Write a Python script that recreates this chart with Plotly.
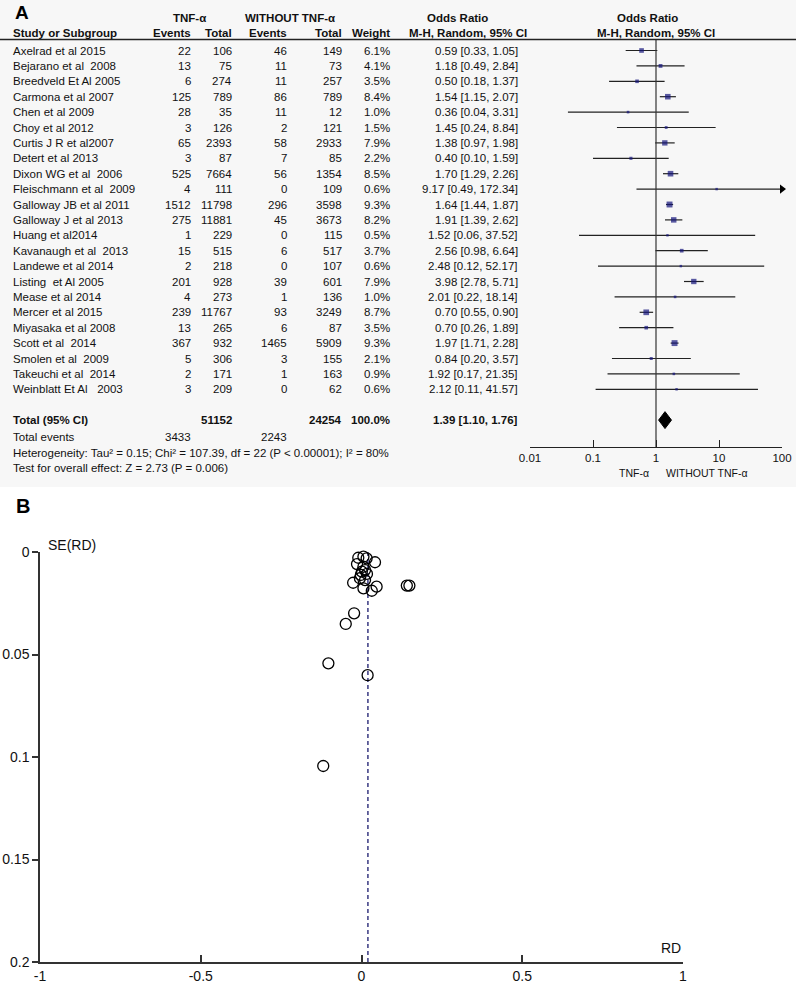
import plotly.graph_objects as go

W, H = 796, 987

studies = ["Axelrad et al 2015", "Bejarano et al  2008", "Breedveld Et Al 2005", "Carmona et al 2007",
           "Chen et al 2009", "Choy et al 2012", "Curtis J R et al2007", "Detert et al 2013",
           "Dixon WG et al  2006", "Fleischmann et al  2009", "Galloway JB et al 2011",
           "Galloway J et al 2013", "Huang et al2014", "Kavanaugh et al  2013", "Landewe et al 2014",
           "Listing  et Al 2005", "Mease et al 2014", "Mercer et al 2015", "Miyasaka et al 2008",
           "Scott et al  2014", "Smolen et al  2009", "Takeuchi et al  2014", "Weinblatt Et Al   2003"]
tnf_events = [22, 13, 6, 125, 28, 3, 65, 3, 525, 4, 1512, 275, 1, 15, 2, 201, 4, 239, 13, 367, 5, 2, 3]
tnf_total = [106, 75, 274, 789, 35, 126, 2393, 87, 7664, 111, 11798, 11881, 229, 515, 218, 928, 273,
             11767, 265, 932, 306, 171, 209]
ctl_events = [46, 11, 11, 86, 11, 2, 58, 7, 56, 0, 296, 45, 0, 6, 0, 39, 1, 93, 6, 1465, 3, 1, 0]
ctl_total = [149, 73, 257, 789, 12, 121, 2933, 85, 1354, 109, 3598, 3673, 115, 517, 107, 601, 136,
             3249, 87, 5909, 155, 163, 62]
weight = [6.1, 4.1, 3.5, 8.4, 1.0, 1.5, 7.9, 2.2, 8.5, 0.6, 9.3, 8.2, 0.5, 3.7, 0.6, 7.9, 1.0, 8.7,
          3.5, 9.3, 2.1, 0.9, 0.6]
odds = [0.59, 1.18, 0.50, 1.54, 0.36, 1.45, 1.38, 0.40, 1.70, 9.17, 1.64, 1.91, 1.52, 2.56, 2.48,
        3.98, 2.01, 0.70, 0.70, 1.97, 0.84, 1.92, 2.12]
ci_lo = [0.33, 0.49, 0.18, 1.15, 0.04, 0.24, 0.97, 0.10, 1.29, 0.49, 1.44, 1.39, 0.06, 0.98, 0.12,
         2.78, 0.22, 0.55, 0.26, 1.71, 0.20, 0.17, 0.11]
ci_hi = [1.05, 2.84, 1.37, 2.07, 3.31, 8.84, 1.98, 1.59, 2.26, 172.34, 1.87, 2.62, 37.52, 6.64,
         52.17, 5.71, 18.14, 0.90, 1.89, 2.28, 3.57, 21.35, 41.57]
total_or, total_lo, total_hi = 1.39, 1.10, 1.76
forest_ticks = [0.01, 0.1, 1, 10, 100]
forest_ticklabels = ["0.01", "0.1", "1", "10", "100"]

# Funnel plot (panel B) values
rd = [-0.010, 0.006, 0.016, 0.042, 0.006, 0.001, 0.011, -0.014, -0.026, -0.005, 0.011, -0.002,
      0.017, 0.006, 0.032, 0.047, 0.141, 0.149, -0.023, -0.049, -0.103, 0.019, -0.119]
se_rd = [0.0028, 0.0023, 0.0031, 0.0050, 0.0072, 0.0096, 0.0088, 0.0059, 0.0150, 0.0128, 0.0137,
         0.0112, 0.0107, 0.0177, 0.0189, 0.0169, 0.0164, 0.0164, 0.0299, 0.0351, 0.0543, 0.0601,
         0.1044]
pooled_rd = 0.02
funnel_xticks = [-1, -0.5, 0, 0.5, 1]
funnel_xlabels = ["-1", "-0.5", "0", "0.5", "1"]
funnel_yticks = [0, 0.05, 0.1, 0.15, 0.2]
funnel_ylabels = ["0", "0.05", "0.1", "0.15", "0.2"]

FONT = "Liberation Sans, Arial, sans-serif"
FS = 11.5

def px(v):
    return v / W

def py(v):
    return 1 - v / H

# forest row geometry (pixels)
ROW0, ROWSTEP = 50.5, 15.4
TOP, BOT = 39, 447
def rowpix(p):
    return (p - ROW0) / ROWSTEP
def rowy(i):
    return ROW0 + i * ROWSTEP

fig = go.Figure()

rows = list(range(len(studies)))
total_row = 24
axis_hi_clip = 100

# CI lines
xs, ys = [], []
for i in rows:
    xs += [ci_lo[i], min(ci_hi[i], axis_hi_clip), None]
    ys += [i, i, None]
fig.add_trace(go.Scatter(x=xs, y=ys, mode="lines", line=dict(color="#222222", width=1.2),
                         xaxis="x", yaxis="y", hoverinfo="skip", showlegend=False))
# arrow for truncated CI
arr_x = [axis_hi_clip for i in rows if ci_hi[i] > axis_hi_clip]
arr_y = [i for i in rows if ci_hi[i] > axis_hi_clip]
fig.add_trace(go.Scatter(x=arr_x, y=arr_y, mode="markers",
                         marker=dict(symbol="triangle-right", size=8, color="#000000"),
                         xaxis="x", yaxis="y", showlegend=False, cliponaxis=False))
# vertical line of no effect
fig.add_trace(go.Scatter(x=[1, 1], y=[rowpix(TOP), rowpix(BOT)], mode="lines",
                         line=dict(color="#333333", width=1.2), xaxis="x", yaxis="y",
                         showlegend=False))
# squares
fig.add_trace(go.Scatter(x=odds, y=rows, mode="markers",
                         marker=dict(symbol="square", size=[2.2 + 0.4 * w for w in weight],
                                     color="#14147a", line=dict(width=0)),
                         xaxis="x", yaxis="y", showlegend=False))
# diamond
fig.add_trace(go.Scatter(x=[total_lo, total_or, total_hi, total_or, total_lo],
                         y=[total_row, total_row - 0.55, total_row, total_row + 0.55, total_row],
                         mode="lines", fill="toself", fillcolor="#000000",
                         line=dict(color="#000000", width=1), xaxis="x", yaxis="y",
                         showlegend=False))

# funnel plot
fig.add_trace(go.Scatter(x=[pooled_rd, pooled_rd], y=[0, 0.2], mode="lines",
                         line=dict(color="#1a1a6e", width=1.3, dash="4px,3px"),
                         xaxis="x2", yaxis="y2", showlegend=False))
fig.add_trace(go.Scatter(x=rd, y=se_rd, mode="markers",
                         marker=dict(symbol="circle-open", size=11, color="#000000",
                                     line=dict(width=1.3, color="#000000")),
                         xaxis="x2", yaxis="y2", showlegend=False, cliponaxis=False))

ann = []
def A(text, x, ypix, anchor="left", size=FS, bold=False, color="#111111"):
    if bold:
        text = "<b>" + text + "</b>"
    ann.append(dict(text=text, x=px(x), y=py(ypix), xref="paper", yref="paper", xanchor=anchor,
                    yanchor="middle", showarrow=False,
                    font=dict(family=FONT, size=size, color=color)))

# headers
A("TNF-α", 189, 18, "center", bold=True)
A("WITHOUT TNF-α", 290, 18, "center", bold=True)
A("Odds Ratio", 457, 18, "center", bold=True)
A("Odds Ratio", 647, 18, "center", bold=True)
A("Study or Subgroup", 11, 33, "left", bold=True)
A("Events", 193, 33, "right", bold=True)
A("Total", 234, 33, "right", bold=True)
A("Events", 289, 33, "right", bold=True)
A("Total", 344, 33, "right", bold=True)
A("Weight", 392, 33, "right", bold=True)
A("M-H, Random, 95% CI", 468, 33, "center", bold=True)
A("M-H, Random, 95% CI", 656, 33, "center", bold=True)

for i in rows:
    y = rowy(i)
    A(studies[i], 11, y)
    A(str(tnf_events[i]), 193, y, "right")
    A(str(tnf_total[i]), 234, y, "right")
    A(str(ctl_events[i]), 289, y, "right")
    A(str(ctl_total[i]), 344, y, "right")
    A(f"{weight[i]:.1f}%", 392, y, "right")
    A(f"{odds[i]:.2f} [{ci_lo[i]:.2f}, {ci_hi[i]:.2f}]", 520, y, "right")

yt = rowy(total_row)
A("Total (95% CI)", 11, yt, bold=True)
A(str(sum(tnf_total)), 234, yt, "right", bold=True)
A(str(sum(ctl_total)), 344, yt, "right", bold=True)
A("100.0%", 392, yt, "right", bold=True)
A(f"{total_or:.2f} [{total_lo:.2f}, {total_hi:.2f}]", 520, yt, "right", bold=True)
A("Total events", 11, 436.7)
A(str(sum(tnf_events)), 193, 436.7, "right")
A(str(sum(ctl_events)), 289, 436.7, "right")
A("Heterogeneity: Tau² = 0.15; Chi² = 107.39, df = 22 (P < 0.00001); I² = 80%", 11, 452.5)
A("Test for overall effect: Z = 2.73 (P = 0.006)", 11, 468.3)
A("TNF-α", 634, 473, "center", size=10.5)
A("WITHOUT TNF-α", 707, 473, "center", size=10.5)

# panel labels
A("A", 13, 13, "left", size=19, bold=True, color="#000000")
A("B", 14, 506, "left", size=20, bold=True, color="#000000")
A("SE(RD)", 46, 545, "left", size=14)
A("RD", 683, 948, "right", size=14)

shapes = [
    dict(type="rect", xref="paper", yref="paper", x0=0, x1=1, y0=py(487), y1=1,
         fillcolor="#f7f7f7", line=dict(width=0), layer="below"),
    dict(type="line", xref="paper", yref="paper", x0=0, x1=1, y0=py(39.5), y1=py(39.5),
         line=dict(color="#222222", width=1.5)),
]

fig.update_layout(
    width=W, height=H, margin=dict(l=0, r=0, t=0, b=0, pad=0, autoexpand=False),
    paper_bgcolor="white", plot_bgcolor="rgba(0,0,0,0)",
    showlegend=False, annotations=ann, shapes=shapes,
    font=dict(family=FONT, size=FS, color="#111"),
    xaxis=dict(type="log", domain=[px(530), px(782)], range=[-2, 2], anchor="y",
               tickvals=forest_ticks, ticktext=forest_ticklabels, ticks="inside", ticklen=7,
               tickwidth=1.2, tickcolor="#222", showline=True, linecolor="#222", linewidth=1.2,
               showgrid=False, zeroline=False, tickfont=dict(size=11.5, family=FONT),
               automargin=False),
    yaxis=dict(domain=[py(BOT), py(TOP)], range=[rowpix(BOT), rowpix(TOP)], visible=False,
               anchor="x", automargin=False),
    xaxis2=dict(domain=[px(40), px(683)], range=[-1, 1], anchor="y2", tickvals=funnel_xticks,
                ticktext=funnel_xlabels, ticks="inside", ticklen=7, tickwidth=1.5,
                tickcolor="#333", showline=True, linecolor="#333", linewidth=1.5,
                showgrid=False, zeroline=False, tickfont=dict(size=14, family=FONT),
                automargin=False),
    yaxis2=dict(domain=[py(962), py(552)], range=[0.2, 0], anchor="x2", tickvals=funnel_yticks,
                ticktext=funnel_ylabels, ticks="outside", ticklen=6, tickwidth=1.5,
                tickcolor="#333", showline=True, linecolor="#333", linewidth=1.5,
                showgrid=False, zeroline=False, tickfont=dict(size=14, family=FONT),
                automargin=False),
)

fig.write_html("out.html", config={"displayModeBar": False},
               post_script="document.body.style.margin='0';document.body.style.padding='0';"
                           "document.documentElement.style.overflow='hidden';")
